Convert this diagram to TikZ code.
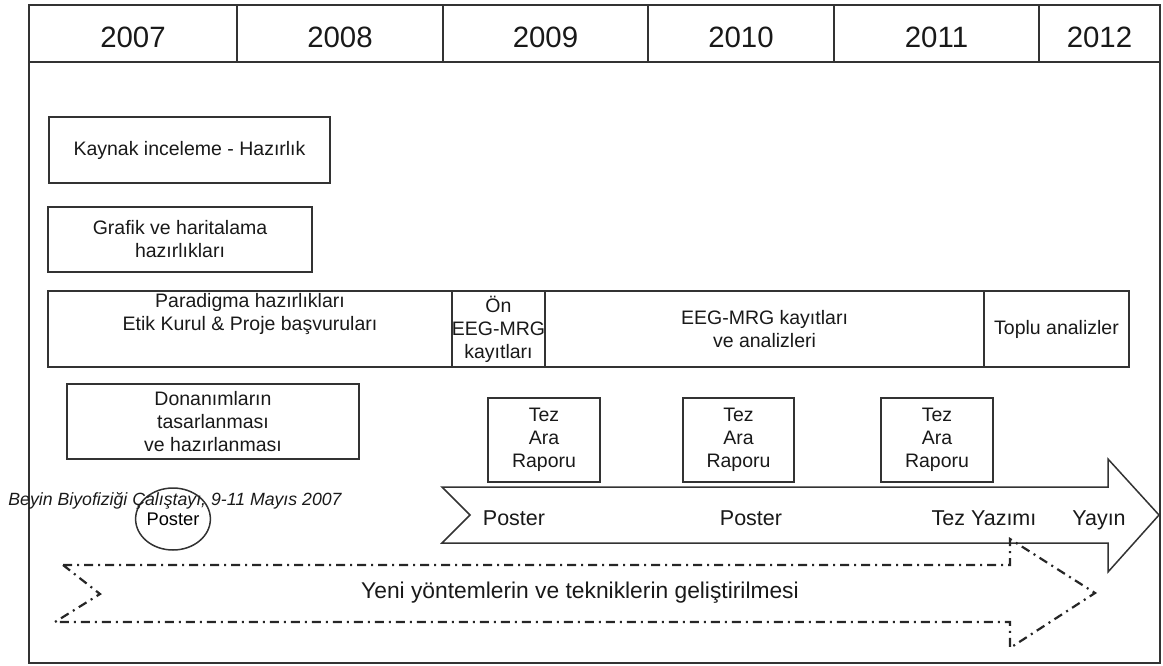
\documentclass[tikz,border=0pt]{standalone}
\usepackage{fontspec}
\setmainfont{Liberation Sans}
\usetikzlibrary{positioning,shapes.geometric}

\begin{document}
\begin{tikzpicture}[x=0.5pt,y=-0.5pt,
  cizgi/.style={draw=black!80,line width=0.75pt},
  yazi/.style={align=center,font=\fontsize{9.75}{11.5}\selectfont,text=black!90,inner sep=0pt},
  yilyazi/.style={font=\fontsize{14.7}{16}\selectfont,text=black!90,inner sep=0pt},
  okyazi/.style={anchor=base,font=\fontsize{10.75}{12}\selectfont,text=black!90,inner sep=0pt},
  noktali/.style={draw=black!85,line width=1.1pt,dash pattern=on 4.5pt off 2.5pt on 1pt off 2.5pt}]
  \useasboundingbox (0,0) rectangle (1163,665);
  \def\kutu(#1)(#2,#3)(#4,#5)#6{
    \draw[cizgi] (#2,#3) rectangle (#4,#5);
    \node[yazi] (#1) at ({(#2+#4)/2},{(#3+#5)/2}) {#6};
  }
  % frame and years
  \draw[cizgi] (29,5) rectangle (1160,663);
  \draw[cizgi] (29,62) -- (1160,62);
  \foreach \a/\b/\yil in {29/237/2007,237/443/2008,443/648/2009,648/834/2010,834/1039/2011,1039/1160/2012} {
    \draw[cizgi] (\b,5) -- (\b,62);
    \node[yilyazi] (y\yil) at ({(\a+\b)/2},37) {\yil};
  }

  \kutu(kaynak)(49,117)(330,183){Kaynak inceleme - Hazırlık}
  \kutu(grafik)(48,207)(312,272){Grafik ve haritalama\\hazırlıkları}
  \draw[cizgi] (48,291) rectangle (452,367);
  \node[yazi] (paradigma) at (250,314) {Paradigma hazırlıkları\\Etik Kurul \& Proje başvuruları};
  \kutu(on)(452,291)(545,367){Ön\\EEG-MRG\\kayıtları}
  \kutu(kayit)(545,291)(984,367){EEG-MRG kayıtları\\ve analizleri}
  \kutu(toplu)(984,291)(1129,367){Toplu analizler}
  \kutu(donanim)(67,384)(359,459){Donanımların\\tasarlanması\\ve hazırlanması}
  \foreach \a/\b [count=\i] in {488/600,683/794,881/993} {
    \kutu(tez\i)(\a,398)(\b,482){Tez\\Ara\\Raporu}
  }

  % timeline arrow
  \draw[cizgi,fill=white] (442,487) -- (1108,487) -- (1108,459) -- (1159,515)
    -- (1108,572) -- (1108,543) -- (442,543) -- (470,515) -- cycle;
  \node[okyazi] (poster1) at (514,525) {Poster};
  \node[okyazi] (poster2) at (751,525) {Poster};
  \node[okyazi] (yazim) at (984,525) {Tez Yazımı};
  \node[okyazi] (yayin) at (1099,525) {Yayın};

  % workshop
  \node[cizgi,ellipse,minimum width=37pt,minimum height=31pt,inner sep=0pt,
    font=\fontsize{9.15}{10}\selectfont] (poster0) at (173,519) {Poster};
  \node[anchor=base,font=\fontsize{8.85}{10}\selectfont\itshape,text=black!90,inner sep=0pt] (calistay) at (175,505)
    {Beyin Biyofiziği Çalıştayı, 9-11 Mayıs 2007};

  % dash-dot arrow
  \draw[noktali] (63,565) -- (1010,565) -- (1010,539) -- (1095,593) -- (1010,648)
    -- (1010,622) -- (55,622) -- (100,594) -- cycle;
  \node[font=\fontsize{11.4}{13}\selectfont,text=black!90,inner sep=0pt] (yeni) at (580,593)
    {Yeni yöntemlerin ve tekniklerin geliştirilmesi};
\end{tikzpicture}
\end{document}
